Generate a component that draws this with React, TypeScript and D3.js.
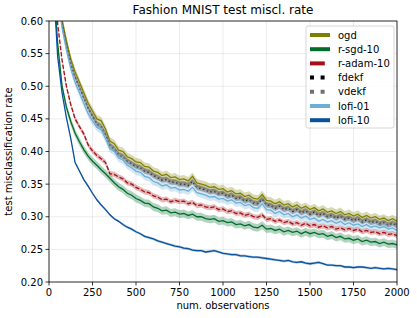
import React from 'react';
import * as d3 from 'd3';

// observations 0..2000, every 25
const steps = d3.range(0, 2001, 25);

const ogd = [
  0.90, 0.75, 0.66, 0.602, 0.570, 0.542, 0.522, 0.506, 0.490, 0.474,
  0.462, 0.450, 0.447, 0.434, 0.416, 0.412, 0.402, 0.400, 0.392, 0.389,
  0.384, 0.383, 0.377, 0.376, 0.370, 0.368, 0.363, 0.365, 0.360, 0.361,
  0.357, 0.358, 0.355, 0.362, 0.352, 0.350, 0.348, 0.345, 0.346, 0.342,
  0.343, 0.338, 0.340, 0.335, 0.336, 0.331, 0.333, 0.328, 0.327, 0.334,
  0.325, 0.324, 0.320, 0.323, 0.318, 0.320, 0.315, 0.318, 0.313, 0.316,
  0.311, 0.314, 0.309, 0.312, 0.307, 0.309, 0.305, 0.308, 0.303, 0.305,
  0.301, 0.304, 0.299, 0.302, 0.298, 0.300, 0.296, 0.298, 0.294, 0.297,
  0.293,
];
const rSgd = [
  0.85, 0.66, 0.565, 0.500, 0.468, 0.446, 0.428, 0.415, 0.403, 0.393,
  0.385, 0.379, 0.372, 0.366, 0.359, 0.352, 0.346, 0.342, 0.336, 0.333,
  0.328, 0.325, 0.321, 0.320, 0.315, 0.313, 0.309, 0.310, 0.306, 0.307,
  0.304, 0.305, 0.302, 0.304, 0.300, 0.300, 0.297, 0.296, 0.297, 0.293,
  0.294, 0.291, 0.292, 0.288, 0.289, 0.286, 0.288, 0.284, 0.283, 0.287,
  0.281, 0.282, 0.279, 0.281, 0.277, 0.279, 0.276, 0.278, 0.274, 0.277,
  0.274, 0.276, 0.273, 0.274, 0.270, 0.272, 0.268, 0.270, 0.266, 0.267,
  0.264, 0.266, 0.262, 0.264, 0.261, 0.262, 0.259, 0.261, 0.258, 0.259,
  0.257,
];
const rAdam = [
  0.88, 0.70, 0.595, 0.540, 0.500, 0.472, 0.450, 0.438, 0.427, 0.410,
  0.401, 0.394, 0.389, 0.383, 0.366, 0.365, 0.361, 0.358, 0.352, 0.350,
  0.345, 0.342, 0.338, 0.337, 0.332, 0.330, 0.326, 0.327, 0.323, 0.325,
  0.323, 0.324, 0.320, 0.322, 0.317, 0.318, 0.315, 0.314, 0.315, 0.311,
  0.312, 0.308, 0.309, 0.305, 0.306, 0.302, 0.304, 0.300, 0.299, 0.303,
  0.296, 0.297, 0.293, 0.295, 0.291, 0.293, 0.289, 0.291, 0.287, 0.290,
  0.286, 0.288, 0.284, 0.286, 0.283, 0.285, 0.281, 0.283, 0.280, 0.282,
  0.279, 0.281, 0.277, 0.279, 0.276, 0.277, 0.274, 0.276, 0.273, 0.274,
  0.271,
];
const fdekf = [
  0.89, 0.74, 0.65, 0.595, 0.562, 0.534, 0.514, 0.498, 0.482, 0.466,
  0.454, 0.442, 0.438, 0.426, 0.409, 0.404, 0.395, 0.392, 0.385, 0.381,
  0.377, 0.375, 0.370, 0.368, 0.363, 0.360, 0.356, 0.357, 0.353, 0.353,
  0.350, 0.350, 0.348, 0.354, 0.345, 0.343, 0.341, 0.338, 0.339, 0.335,
  0.336, 0.331, 0.333, 0.328, 0.329, 0.324, 0.326, 0.321, 0.320, 0.327,
  0.318, 0.317, 0.313, 0.316, 0.311, 0.313, 0.308, 0.311, 0.306, 0.309,
  0.304, 0.307, 0.302, 0.305, 0.300, 0.302, 0.298, 0.301, 0.296, 0.298,
  0.294, 0.297, 0.292, 0.295, 0.291, 0.293, 0.289, 0.291, 0.287, 0.290,
  0.286,
];
const vdekf = [
  0.89, 0.74, 0.65, 0.596, 0.563, 0.535, 0.515, 0.499, 0.483, 0.467,
  0.455, 0.443, 0.439, 0.427, 0.410, 0.405, 0.396, 0.393, 0.386, 0.382,
  0.378, 0.376, 0.371, 0.369, 0.364, 0.361, 0.357, 0.358, 0.354, 0.354,
  0.351, 0.351, 0.349, 0.355, 0.346, 0.344, 0.342, 0.339, 0.340, 0.336,
  0.337, 0.332, 0.334, 0.329, 0.330, 0.325, 0.327, 0.322, 0.321, 0.328,
  0.319, 0.318, 0.314, 0.317, 0.312, 0.314, 0.309, 0.312, 0.307, 0.310,
  0.305, 0.308, 0.303, 0.306, 0.301, 0.303, 0.299, 0.302, 0.297, 0.299,
  0.295, 0.298, 0.293, 0.296, 0.292, 0.294, 0.290, 0.292, 0.288, 0.291,
  0.287,
];
const lofi01 = [
  0.86, 0.72, 0.64, 0.590, 0.556, 0.527, 0.506, 0.490, 0.474, 0.458,
  0.447, 0.437, 0.433, 0.420, 0.404, 0.400, 0.390, 0.387, 0.379, 0.375,
  0.370, 0.368, 0.362, 0.360, 0.354, 0.352, 0.347, 0.349, 0.344, 0.345,
  0.341, 0.342, 0.339, 0.345, 0.337, 0.335, 0.333, 0.330, 0.331, 0.327,
  0.328, 0.324, 0.326, 0.321, 0.322, 0.317, 0.319, 0.314, 0.313, 0.320,
  0.311, 0.310, 0.305, 0.308, 0.303, 0.305, 0.300, 0.303, 0.298, 0.301,
  0.296, 0.298, 0.293, 0.296, 0.292, 0.294, 0.290, 0.293, 0.288, 0.291,
  0.287, 0.289, 0.285, 0.288, 0.284, 0.286, 0.283, 0.285, 0.281, 0.283,
  0.279,
];
const lofi10 = [
  0.85, 0.66, 0.545, 0.490, 0.452, 0.420, 0.383, 0.370, 0.357, 0.347,
  0.336, 0.326, 0.318, 0.311, 0.303, 0.297, 0.293, 0.288, 0.284, 0.281,
  0.277, 0.274, 0.270, 0.268, 0.266, 0.263, 0.261, 0.259, 0.257, 0.255,
  0.254, 0.252, 0.251, 0.249, 0.248, 0.248, 0.246, 0.247, 0.248, 0.246,
  0.244, 0.243, 0.242, 0.242, 0.240, 0.240, 0.239, 0.238, 0.238, 0.237,
  0.236, 0.235, 0.234, 0.233, 0.232, 0.233, 0.231, 0.230, 0.231, 0.229,
  0.228, 0.229, 0.230, 0.228, 0.226, 0.226, 0.225, 0.225, 0.223, 0.223,
  0.222, 0.223, 0.223, 0.222, 0.221, 0.222, 0.221, 0.220, 0.221, 0.220,
  0.219,
];

// half width of the shaded band per series
const spreads = [0.006, 0.006, 0.004, 0.004, 0.004, 0.006, 0.002];

const xTicks = [0, 250, 500, 750, 1000, 1250, 1500, 1750, 2000];
const yTicks = [0.2, 0.25, 0.3, 0.35, 0.4, 0.45, 0.5, 0.55, 0.6];

const series = [
  { name: 'ogd', values: ogd, color: '#808000', dash: null },
  { name: 'r-sgd-10', values: rSgd, color: '#006d2c', dash: null },
  { name: 'r-adam-10', values: rAdam, color: '#a50f15', dash: 'dashed' },
  { name: 'fdekf', values: fdekf, color: '#000000', dash: 'dotted' },
  { name: 'vdekf', values: vdekf, color: '#707070', dash: 'dotted' },
  { name: 'lofi-01', values: lofi01, color: '#6baed6', dash: null },
  { name: 'lofi-10', values: lofi10, color: '#08519c', dash: null },
];

const W = 417, H = 318;
const margin = { top: 21, right: 20, bottom: 36, left: 49 };
const font = 'DejaVu Sans, sans-serif';

export default function App() {
  const innerW = W - margin.left - margin.right;
  const innerH = H - margin.top - margin.bottom;

  const x = d3.scaleLinear().domain([0, 2000]).range([0, innerW]);
  const y = d3.scaleLinear().domain([0.2, 0.6]).range([innerH, 0]);

  const line = d3.line<number>().x((d, i) => x(steps[i])).y(d => y(d));
  const area = (vals: number[], s: number) =>
    d3.area<number>().x((d, i) => x(steps[i])).y0(d => y(d - s)).y1(d => y(d + s))(vals);

  const plotDash = (dash: string | null) =>
    dash === 'dashed' ? '4.4,1.9' : dash === 'dotted' ? '1.5,2.5' : undefined;
  const legDash = (dash: string | null) =>
    dash === 'dashed' ? '14.8,6.4' : dash === 'dotted' ? '4,6.6' : undefined;

  const legX = 306, legY = 26, legRow = 14.2;

  return (
    <svg width={W} height={H} style={{ position: 'absolute', left: 0, top: 0, background: '#fff' }}>
      <defs>
        <clipPath id="plotClip">
          <rect x={0} y={0} width={innerW} height={innerH} />
        </clipPath>
      </defs>
      <text x={margin.left + innerW / 2} y={14} textAnchor="middle" fontFamily={font} fontSize={12}>
        Fashion MNIST test miscl. rate
      </text>
      <g transform={`translate(${margin.left},${margin.top})`}>
        {/* grid */}
        {xTicks.map(t => (
          <line key={'gx' + t} x1={x(t)} x2={x(t)} y1={0} y2={innerH} stroke="#b0b0b0" strokeOpacity={0.3} strokeWidth={0.8} />
        ))}
        {yTicks.map(t => (
          <line key={'gy' + t} x1={0} x2={innerW} y1={y(t)} y2={y(t)} stroke="#b0b0b0" strokeOpacity={0.3} strokeWidth={0.8} />
        ))}
        <g clipPath="url(#plotClip)">
          {series.map((s, k) => (
            <g key={s.name}>
              <path d={area(s.values, spreads[k]) || ''} fill={s.color} fillOpacity={0.3} />
              <path d={line(s.values) || ''} fill="none" stroke={s.color} strokeWidth={1.3}
                strokeDasharray={plotDash(s.dash)} />
            </g>
          ))}
        </g>
        {/* spines */}
        <rect x={0} y={0} width={innerW} height={innerH} fill="none" stroke="#000" strokeWidth={0.8} />
        {xTicks.map(t => (
          <g key={'tx' + t} transform={`translate(${x(t)},${innerH})`}>
            <line y2={3.5} stroke="#000" strokeWidth={0.8} />
            <text y={14} textAnchor="middle" fontFamily={font} fontSize={10}>{t}</text>
          </g>
        ))}
        {yTicks.map(t => (
          <g key={'ty' + t} transform={`translate(0,${y(t)})`}>
            <line x2={-3.5} stroke="#000" strokeWidth={0.8} />
            <text x={-6} dy="0.35em" textAnchor="end" fontFamily={font} fontSize={10}>{t.toFixed(2)}</text>
          </g>
        ))}
        <text x={innerW / 2} y={innerH + 27} textAnchor="middle" fontFamily={font} fontSize={10}>num. observations</text>
        <text transform={`translate(${-37},${innerH / 2}) rotate(-90)`} textAnchor="middle" fontFamily={font} fontSize={10}>
          test misclassification rate
        </text>
      </g>
      {/* legend */}
      <g transform={`translate(${legX},${legY})`}>
        <rect x={0} y={0} width={88} height={102} rx={2} fill="#fff" fillOpacity={0.8} stroke="#ccc" strokeWidth={0.8} />
        {series.map((s, i) => (
          <g key={'leg' + s.name} transform={`translate(0,${9 + i * legRow})`}>
            <line x1={4} x2={24} y1={0} y2={0} stroke={s.color} strokeWidth={4} strokeDasharray={legDash(s.dash)} />
            <text x={32} dy="0.35em" fontFamily={font} fontSize={10}>{s.name}</text>
          </g>
        ))}
      </g>
    </svg>
  );
}
